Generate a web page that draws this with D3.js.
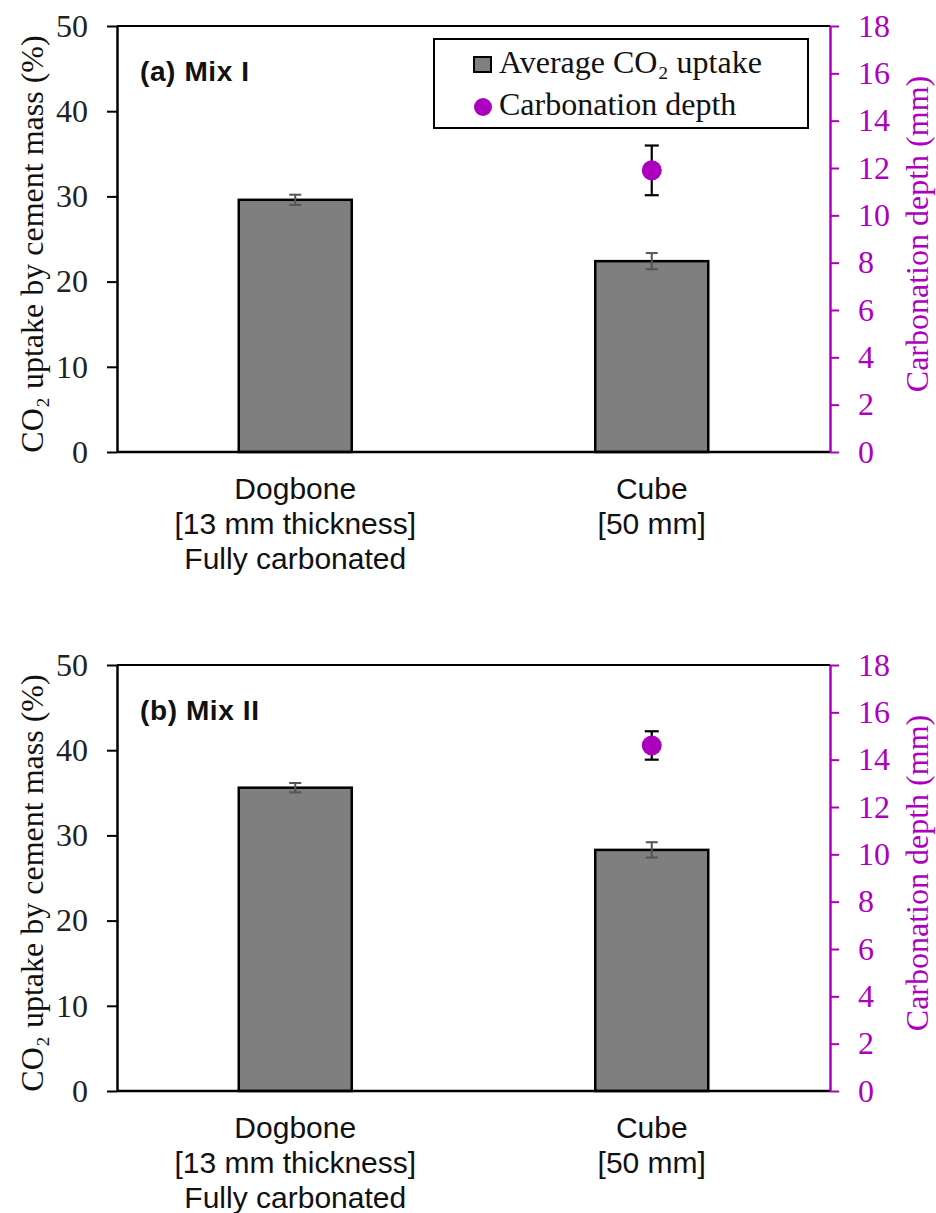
<!DOCTYPE html>
<html>
<head>
<meta charset="utf-8">
<script src="https://cdn.jsdelivr.net/npm/d3@7"></script>
<style>
  body { margin: 0; background: #fff; }
</style>
</head>
<body>
<svg id="chart" width="936" height="1213"></svg>
<script>
// categories on the x axis (one entry per line of the label)
const categories = ['dogbone', 'cube']
const categoryLines = [
  ['Dogbone', '[13 mm thickness]', 'Fully carbonated'],
  ['Cube', '[50 mm]']
]
const panelTitles = ['(a) Mix I', '(b) Mix II']

// average CO2 uptake (% of cement mass) and its error
const uptakeMixI = [29.6, 22.4]
const uptakeErrMixI = [0.6, 0.95]
const uptakeMixII = [35.6, 28.3]
const uptakeErrMixII = [0.55, 0.9]

// carbonation depth (mm), only measured on the cube
const depthMixI = [null, 11.9]
const depthErrMixI = [null, 1.05]
const depthMixII = [null, 14.6]
const depthErrMixII = [null, 0.6]

const leftTicks = [0, 10, 20, 30, 40, 50]
const rightTicks = [0, 2, 4, 6, 8, 10, 12, 14, 16, 18]

const magenta = '#ad00bf'
const serif = '"Liberation Serif", "Times New Roman", serif'
const sans = '"Liberation Sans", Arial, sans-serif'
const svg = d3.select('#chart')

const plot = { left: 117, right: 830, height: 426 }
const panelTops = [26, 665]

function drawPanel (top, title, uptake, uptakeErr, depth, depthErr, withLegend) {
  const bottom = top + plot.height
  const g = svg.append('g')

  const x = d3.scalePoint().domain(categories).range([plot.left, plot.right]).padding(0.5)
  const barWidth = x.step() * 0.317
  const y = d3.scaleLinear().domain([0, 50]).range([bottom, top])
  const yR = d3.scaleLinear().domain([0, 18]).range([bottom, top])

  // bars
  g.selectAll('rect.bar').data(categories).join('rect')
    .attr('class', 'bar')
    .attr('x', d => x(d) - barWidth / 2)
    .attr('y', (d, i) => y(uptake[i]))
    .attr('width', barWidth)
    .attr('height', (d, i) => y(0) - y(uptake[i]))
    .attr('fill', '#7f7f7f')
    .attr('stroke', '#000')
    .attr('stroke-width', 2.5)

  // bar error bars
  categories.forEach((c, i) => {
    const cx = x(c), hi = y(uptake[i] + uptakeErr[i]), lo = y(uptake[i] - uptakeErr[i])
    const eg = g.append('g').attr('stroke', '#555').attr('stroke-width', 2)
    eg.append('line').attr('x1', cx).attr('x2', cx).attr('y1', hi).attr('y2', lo)
    eg.append('line').attr('x1', cx - 6).attr('x2', cx + 6).attr('y1', hi).attr('y2', hi)
    eg.append('line').attr('x1', cx - 6).attr('x2', cx + 6).attr('y1', lo).attr('y2', lo)
  })

  // carbonation depth points
  categories.forEach((c, i) => {
    if (depth[i] == null) { return }
    const cx = x(c), hi = yR(depth[i] + depthErr[i]), lo = yR(depth[i] - depthErr[i])
    const eg = g.append('g').attr('stroke', '#000').attr('stroke-width', 2.2)
    eg.append('line').attr('x1', cx).attr('x2', cx).attr('y1', hi).attr('y2', lo)
    eg.append('line').attr('x1', cx - 7).attr('x2', cx + 7).attr('y1', hi).attr('y2', hi)
    eg.append('line').attr('x1', cx - 7).attr('x2', cx + 7).attr('y1', lo).attr('y2', lo)
    g.append('circle').attr('cx', cx).attr('cy', yR(depth[i])).attr('r', 10).attr('fill', magenta)
  })

  // frame: top and bottom lines
  g.append('line').attr('x1', plot.left).attr('x2', plot.right).attr('y1', top).attr('y2', top)
    .attr('stroke', '#000').attr('stroke-width', 2)
  g.append('line').attr('x1', plot.left).attr('x2', plot.right).attr('y1', bottom).attr('y2', bottom)
    .attr('stroke', '#000').attr('stroke-width', 2.5)

  // left axis
  const la = g.append('g').attr('transform', `translate(${plot.left},0)`)
    .call(d3.axisLeft(y).tickValues(leftTicks).tickSize(10).tickSizeOuter(0).tickPadding(19))
  la.attr('font-family', serif).attr('font-size', 32)
  la.select('.domain').attr('stroke', '#000').attr('stroke-width', 2.5)
  la.selectAll('.tick line').attr('stroke', '#000').attr('stroke-width', 2)
  la.selectAll('.tick text').attr('fill', '#222').attr('font-family', serif).attr('font-size', 32)

  // right axis
  const ra = g.append('g').attr('transform', `translate(${plot.right},0)`)
    .call(d3.axisRight(yR).tickValues(rightTicks).tickSize(9).tickSizeOuter(0).tickPadding(19))
  ra.attr('font-family', serif).attr('font-size', 32)
  ra.select('.domain').attr('stroke', magenta).attr('stroke-width', 2.5)
  ra.selectAll('.tick line').attr('stroke', magenta).attr('stroke-width', 2)
  ra.selectAll('.tick text').attr('fill', magenta).attr('font-family', serif).attr('font-size', 32)

  // axis titles
  g.append('text')
    .attr('transform', `translate(43,${(top + bottom) / 2 + 5}) rotate(-90)`)
    .attr('text-anchor', 'middle').attr('font-size', 32).attr('font-family', serif).attr('fill', '#111')
    .text('CO₂ uptake by cement mass (%)')
  g.append('text')
    .attr('transform', `translate(928,${(top + bottom) / 2 - 5}) rotate(-90)`)
    .attr('text-anchor', 'middle').attr('font-size', 32).attr('font-family', serif).attr('fill', magenta)
    .text('Carbonation depth (mm)')

  // category labels
  categories.forEach((c, i) => {
    const t = g.append('text')
      .attr('x', x(c)).attr('y', bottom + 47)
      .attr('text-anchor', 'middle').attr('font-size', 30).attr('font-family', sans).attr('fill', '#111')
    categoryLines[i].forEach((line, k) => {
      t.append('tspan').attr('x', x(c)).attr('dy', k === 0 ? 0 : 35).text(line)
    })
  })

  // panel title
  g.append('text')
    .attr('x', 140).attr('y', top + 55)
    .attr('font-size', 28).attr('font-weight', 'bold').attr('font-family', sans)
    .attr('letter-spacing', 0.6).attr('fill', '#111')
    .text(title)

  if (withLegend) {
    const lg = g.append('g')
    lg.append('rect').attr('x', 434).attr('y', top + 13).attr('width', 374).attr('height', 89)
      .attr('fill', '#fff').attr('stroke', '#000').attr('stroke-width', 2)
    lg.append('rect').attr('x', 474).attr('y', top + 31).attr('width', 17).attr('height', 15)
      .attr('fill', '#7f7f7f').attr('stroke', '#000').attr('stroke-width', 2)
    lg.append('circle').attr('cx', 483).attr('cy', top + 81).attr('r', 9).attr('fill', magenta)
    lg.append('text').attr('x', 499).attr('y', top + 47).attr('font-size', 32)
      .attr('font-family', serif).attr('fill', '#111')
      .text('Average CO₂ uptake')
    lg.append('text').attr('x', 499).attr('y', top + 89).attr('font-size', 32)
      .attr('font-family', serif).attr('fill', '#111')
      .text('Carbonation depth')
  }
}

drawPanel(panelTops[0], panelTitles[0], uptakeMixI, uptakeErrMixI, depthMixI, depthErrMixI, true)
drawPanel(panelTops[1], panelTitles[1], uptakeMixII, uptakeErrMixII, depthMixII, depthErrMixII, false)
</script>
</body>
</html>
